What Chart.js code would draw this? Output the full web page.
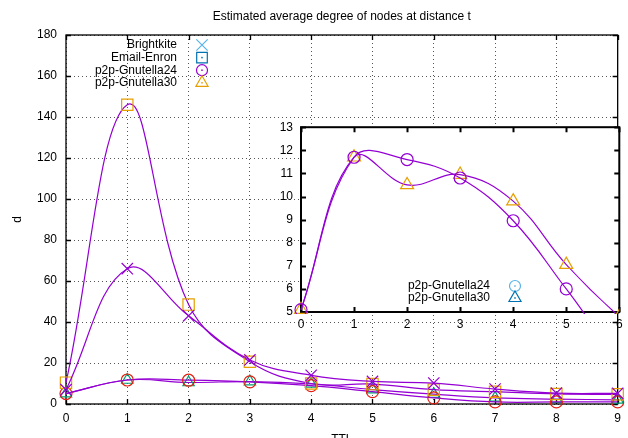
<!DOCTYPE html>
<html>
<head>
<meta charset="utf-8">
<title>Estimated average degree of nodes at distance t</title>
<script src="https://cdn.jsdelivr.net/npm/chart.js@4.4.1/dist/chart.umd.min.js"></script>
<style>
  html, body { margin: 0; padding: 0; background: #fff; }
  #wrap { position: relative; width: 628px; height: 438px; overflow: hidden; }
  #mainChart { position: absolute; left: 0; top: 0; }
  #insetChart { position: absolute; left: 270px; top: 112px; }
</style>
</head>
<body>
<div id="wrap">
  <canvas id="mainChart" width="628" height="438"></canvas>
  <canvas id="insetChart" width="358" height="226"></canvas>
</div>
<script>
const ttl         = [0, 1, 2, 3, 4, 5, 6, 7, 8, 9];
const brightkite  = [7, 66, 43, 21.5, 14, 11, 10.2, 7.3, 5.3, 5.2];
const emailEnron  = [10.4, 146, 48.5, 20.6, 10, 9.7, 7, 6, 4.9, 4.7];
const gnutella24  = [5.1, 11.7, 11.6, 10.8, 8.95, 6.0, 3.0, 1.0, 1.0, 1.0];
const gnutella30  = [5.1, 11.7, 10.5, 10.95, 9.8, 7.05, 4.8, 3.0, 2.4, 2.0];

const mainLegendLabels  = ['Brightkite', 'Email-Enron', 'p2p-Gnutella24', 'p2p-Gnutella30'];
const insetLegendLabels = ['p2p-Gnutella24', 'p2p-Gnutella30'];

const TITLE  = 'Estimated average degree of nodes at distance t';
const XTITLE = 'TTL';
const YTITLE = 'd';

// gnuplot-ish colours
const PURPLE = '#9400d3', ORANGE = '#e69f00', RED = '#e51e10', GREEN = '#009e73';
const SKY = '#56b4e9', BLUE = '#0072b2';
const GRID = '#555';
const FONT = '12px "Liberation Sans", Arial, sans-serif';

Chart.defaults.font.family = '"Liberation Sans", Arial, sans-serif';
Chart.defaults.font.size = 12;
Chart.defaults.color = '#000';

function pts(values) {
  return ttl.map((t, i) => ({ x: t, y: values[i] }));
}

function series(label, values, color, style, radius, clip) {
  return {
    label, data: pts(values),
    borderColor: PURPLE, borderWidth: 1.2, tension: 0.4, fill: false,
    pointStyle: style, pointRadius: radius, pointBorderColor: color,
    pointBackgroundColor: 'rgba(0,0,0,0)', pointBorderWidth: 1.2,
    clip
  };
}

// marker with optional centre dot, used by the legends
function marker(ctx, style, color, r, x, y, dot) {
  ctx.save();
  ctx.strokeStyle = color;
  ctx.fillStyle = 'rgba(0,0,0,0)';
  ctx.lineWidth = 1.2;
  Chart.helpers.drawPoint(ctx, { pointStyle: style, radius: r, borderWidth: 1.2, rotation: 0 }, x, y);
  if (dot) {
    ctx.fillStyle = color;
    ctx.fillRect(x - 0.75, y - 0.75, 1.5, 1.5);
  }
  ctx.restore();
}

// — border box + inward ticks on all four sides —
const frame = {
  id: 'frame',
  beforeDatasetsDraw(chart, args, opts) {
    const { ctx, chartArea: a, scales: { x, y } } = chart;
    ctx.save();
    ctx.strokeStyle = '#000';
    ctx.lineWidth = opts.width;
    ctx.beginPath();
    x.ticks.forEach(t => {
      const px = Math.round(x.getPixelForValue(t.value)) + 0.5;
      ctx.moveTo(px, a.bottom); ctx.lineTo(px, a.bottom - opts.len);
      ctx.moveTo(px, a.top);    ctx.lineTo(px, a.top + opts.len);
    });
    y.ticks.forEach(t => {
      const py = Math.round(y.getPixelForValue(t.value)) + 0.5;
      ctx.moveTo(a.left, py);  ctx.lineTo(a.left + opts.len, py);
      ctx.moveTo(a.right, py); ctx.lineTo(a.right - opts.len, py);
    });
    ctx.stroke();
    ctx.strokeRect(a.left, a.top, a.right - a.left, a.bottom - a.top);
    ctx.restore();
  }
};

// — white plot background (inset only) —
const whiteArea = {
  id: 'whiteArea',
  beforeDraw(chart, args, opts) {
    if (!opts.on) return;
    const { ctx, chartArea: a } = chart;
    ctx.save();
    ctx.fillStyle = '#fff';
    ctx.fillRect(a.left, a.top, a.right - a.left, a.bottom - a.top);
    ctx.restore();
  }
};

// — title centred over the plot area, like gnuplot does —
const plotTitle = {
  id: 'plotTitle',
  afterDraw(chart, args, opts) {
    if (!opts.text) return;
    const { ctx, chartArea: a } = chart;
    ctx.save();
    ctx.font = FONT;
    ctx.fillStyle = '#000';
    ctx.textAlign = 'center';
    ctx.textBaseline = 'middle';
    ctx.fillText(opts.text, (a.left + a.right) / 2, opts.y);
    ctx.restore();
  }
};

// — gnuplot style key: right aligned text, marker after it —
const key = {
  id: 'key',
  afterDraw(chart, args, opts) {
    if (!opts.items) return;
    const ctx = chart.ctx;
    ctx.save();
    ctx.font = FONT;
    ctx.fillStyle = '#000';
    ctx.textAlign = 'right';
    ctx.textBaseline = 'middle';
    opts.items.forEach((it, i) => {
      const yy = opts.top + i * opts.step;
      ctx.fillText(it.text, opts.textRight, yy);
      marker(ctx, it.style, it.color, it.r, opts.markerX, yy, it.dot);
    });
    ctx.restore();
  }
};

const dotted = { color: GRID, lineWidth: 1, drawTicks: false };
const dottedBorder = { display: false, dash: [1, 3] };

// — main chart —
new Chart(document.getElementById('mainChart'), {
  type: 'line',
  data: {
    datasets: [
      series('Brightkite',     brightkite, PURPLE, 'crossRot', 8,   8),
      series('Email-Enron',    emailEnron, ORANGE, 'rect',     8,   8),
      series('p2p-Gnutella24', gnutella24, RED,    'circle',   6,   8),
      series('p2p-Gnutella30', gnutella30, GREEN,  'triangle', 6.5, 8)
    ]
  },
  options: {
    responsive: false,
    animation: false,
    layout: { padding: { left: 0, right: 6, top: 35, bottom: 0 } },
    scales: {
      x: {
        type: 'linear', min: 0, max: 9,
        ticks: { stepSize: 1, padding: 7, maxRotation: 0 },
        grid: dotted, border: dottedBorder,
        title: { display: true, text: XTITLE, padding: { top: 0, bottom: -9 } },
        afterFit: s => { s.height = 34; }
      },
      y: {
        min: 0, max: 180,
        ticks: { stepSize: 20, padding: 9 },
        grid: dotted, border: dottedBorder,
        title: { display: true, text: YTITLE, padding: { top: 10, bottom: 0 } },
        afterFit: s => { s.width = 66; }
      }
    },
    plugins: {
      legend: { display: false },
      tooltip: { enabled: false },
      title: { display: false },
      plotTitle: { text: TITLE, y: 17 },
      frame: { width: 1.3, len: 5 },
      key: {
        textRight: 177, markerX: 202, top: 45, step: 12.6,
        items: [
          { text: mainLegendLabels[0], style: 'crossRot', color: SKY,    r: 8,   dot: false },
          { text: mainLegendLabels[1], style: 'rect',     color: BLUE,   r: 7.5, dot: true },
          { text: mainLegendLabels[2], style: 'circle',   color: PURPLE, r: 5.5, dot: true },
          { text: mainLegendLabels[3], style: 'triangle', color: ORANGE, r: 7,   dot: true }
        ]
      }
    }
  },
  plugins: [frame, plotTitle, key]
});

// — inset (zoom on the Gnutella curves) —
const insetClip = { left: 8, top: 8, right: 0, bottom: 2 };
new Chart(document.getElementById('insetChart'), {
  type: 'line',
  data: {
    datasets: [
      series('p2p-Gnutella24', gnutella24, PURPLE, 'circle',   6,   insetClip),
      series('p2p-Gnutella30', gnutella30, ORANGE, 'triangle', 7.5, insetClip)
    ]
  },
  options: {
    responsive: false,
    animation: false,
    layout: { padding: { left: 0, right: 6, top: 13, bottom: 0 } },
    scales: {
      x: {
        type: 'linear', min: 0, max: 6,
        ticks: { stepSize: 1, padding: 5, maxRotation: 0 },
        grid: { display: false, drawTicks: false }, border: { display: false },
        afterFit: s => { s.height = 26; }
      },
      y: {
        min: 5, max: 13,
        ticks: { stepSize: 1, padding: 8 },
        grid: { display: false, drawTicks: false }, border: { display: false },
        afterFit: s => { s.width = 31; }
      }
    },
    plugins: {
      legend: { display: false },
      tooltip: { enabled: false },
      whiteArea: { on: true },
      frame: { width: 2, len: 5 },
      key: {
        textRight: 220, markerX: 245, top: 174, step: 12,
        items: [
          { text: insetLegendLabels[0], style: 'circle',   color: SKY,  r: 5.5, dot: true },
          { text: insetLegendLabels[1], style: 'triangle', color: BLUE, r: 7,   dot: true }
        ]
      }
    }
  },
  plugins: [whiteArea, frame, key]
});
</script>
</body>
</html>
